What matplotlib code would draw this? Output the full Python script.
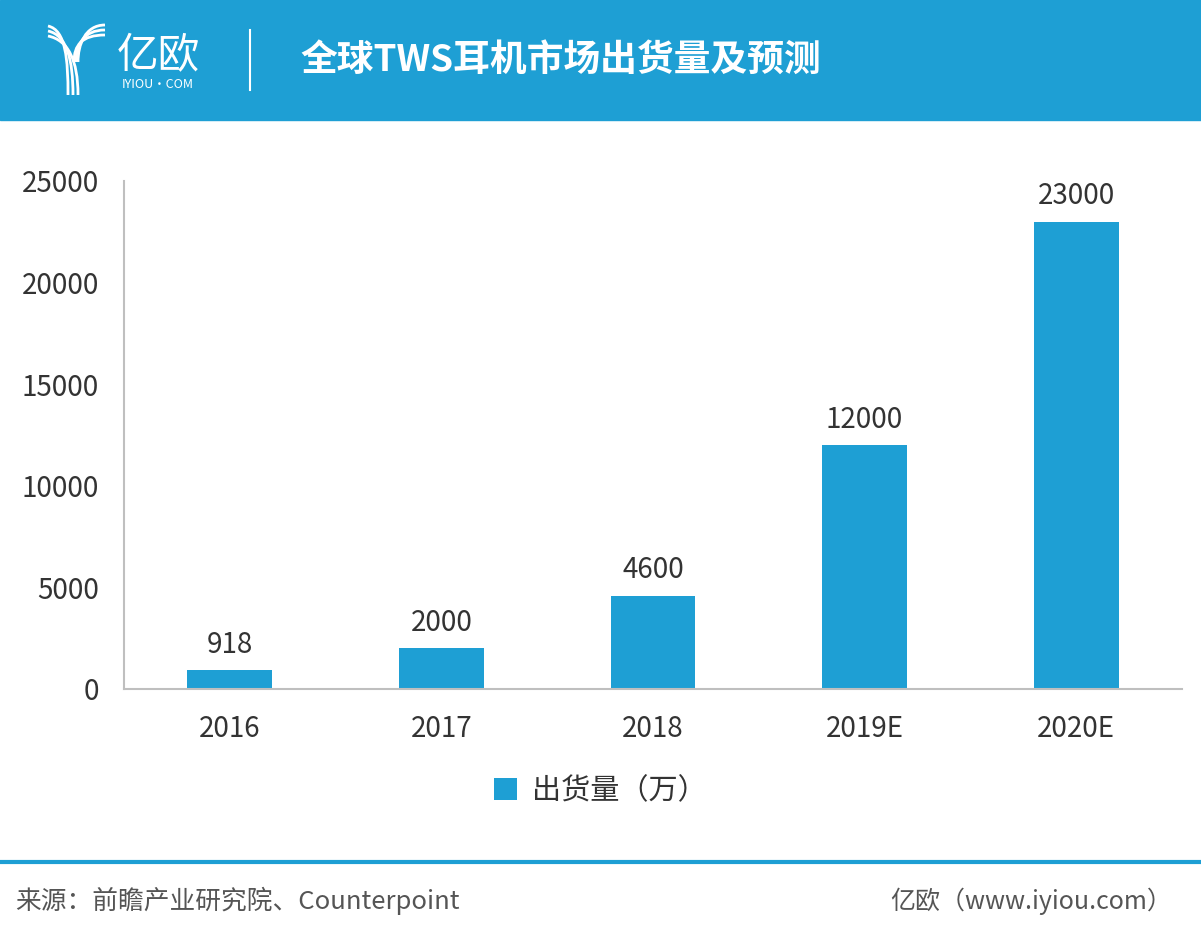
import matplotlib.pyplot as plt
from matplotlib.patches import Rectangle, PathPatch
from matplotlib.path import Path

plt.rcParams['font.family'] = ['Noto Sans CJK SC', 'DejaVu Sans']
plt.rcParams['font.weight'] = 'light'

# 数据
anos = ['2016', '2017', '2018', '2019E', '2020E']
valores = [918, 2000, 4600, 12000, 23000]
yticks = [0, 5000, 10000, 15000, 20000, 25000]

azul = '#1e9fd4'
texto = '#333333'
W, H = 1201, 941


def px(x, y):
    return (x / W, 1 - y / H)


fig = plt.figure(figsize=(12.01, 9.41), dpi=100)

# cabeçalho
fig.patches.append(Rectangle((0, 1 - 120 / H), 1, 120 / H, transform=fig.transFigure,
                             color=azul, zorder=0))

# logo (linhas do Y)
for d in [0, 5, 10]:
    # braço esquerdo
    p = Path([px(48, 26 + d), px(66 + d * 0.2, 30 + d), px(68 + d, 60), px(68 + d, 95)],
             [Path.MOVETO, Path.CURVE4, Path.CURVE4, Path.CURVE4])
    fig.patches.append(PathPatch(p, fill=False, ec='white', lw=2, transform=fig.transFigure))
for d in [0, 5, 10]:
    # braço direito
    p = Path([px(105, 25 + d), px(85 - d * 0.3, 25 + d), px(78 - d * 0.4, 45), px(78 - d * 0.4, 62)],
             [Path.MOVETO, Path.CURVE4, Path.CURVE4, Path.CURVE4])
    fig.patches.append(PathPatch(p, fill=False, ec='white', lw=2, transform=fig.transFigure))

fig.text(*px(158, 57), '亿欧', color='white', fontsize=30, ha='center', va='center')
fig.text(*px(158, 85), 'IYIOU·COM', color='white', fontsize=9, ha='center', va='center')
fig.add_artist(plt.Line2D([250 / W, 250 / W], [1 - 30 / H, 1 - 90 / H],
                          color='white', lw=1.5, transform=fig.transFigure))
fig.text(*px(300, 60), '全球TWS耳机市场出货量及预测', color='white',
         fontsize=26.5, fontweight='heavy', ha='left', va='center')

ax = fig.add_axes([124 / W, 1 - 689 / H, 1058 / W, 508 / H])
x = range(len(anos))
barras = ax.bar(x, valores, width=0.4, color=azul, label='出货量（万）')
for xi, v in zip(x, valores):
    ax.text(xi, v + 500, str(v), ha='center', va='bottom', fontsize=20, color=texto)

ax.set_xlim(-0.5, 4.5)
ax.set_ylim(0, 25000)
ax.set_yticks(yticks)
ax.set_yticklabels([str(t) for t in yticks])
ax.set_xticks(list(x))
ax.set_xticklabels(anos)
ax.tick_params(length=0, labelsize=20, labelcolor=texto)
ax.tick_params(axis='x', pad=18)
ax.tick_params(axis='y', pad=18)
for s in ['top', 'right']:
    ax.spines[s].set_visible(False)
for s in ['left', 'bottom']:
    ax.spines[s].set_color('#bfbfbf')
    ax.spines[s].set_linewidth(1.5)

fig.legend(handles=[barras], labels=['出货量（万）'], loc='center', bbox_to_anchor=px(600, 791),
           frameon=False, fontsize=21, handlelength=0.8, handleheight=0.8, handletextpad=0.5,
           labelcolor=texto)

# rodapé
fig.add_artist(plt.Line2D([0, 1], [1 - 862 / H, 1 - 862 / H], color=azul, lw=3,
                          transform=fig.transFigure))
fig.text(*px(15, 901), '来源：前瞻产业研究院、Counterpoint', fontsize=18.5,
         color='#555555', ha='left', va='center')
fig.text(*px(1172, 901), '亿欧（www.iyiou.com）', fontsize=18,
         color='#555555', ha='right', va='center')

plt.savefig('out.png', dpi=100)
